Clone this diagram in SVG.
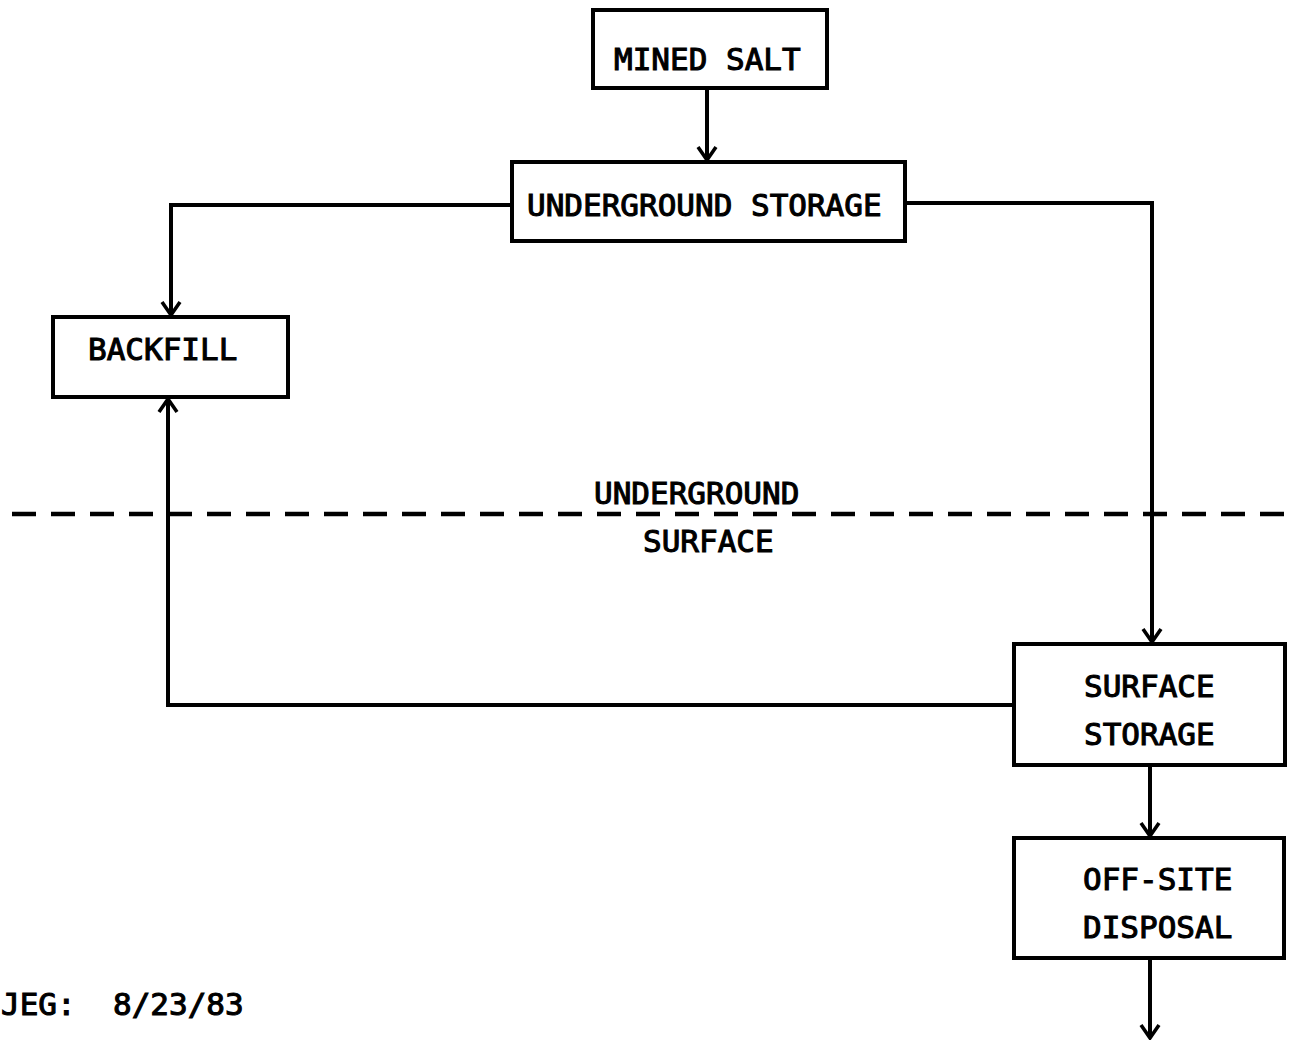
<svg xmlns="http://www.w3.org/2000/svg" width="1291" height="1042" viewBox="0 0 1291 1042">
<style>
.box{fill:#fff;stroke:#000;stroke-width:4}
.t{font-family:"DejaVu Sans Mono","Liberation Mono",monospace;font-size:31px;fill:#000;stroke:#000;stroke-width:1.1;white-space:pre}
.c{fill:none;stroke:#000;stroke-width:4}
</style>
<defs>
<marker id="ah" viewBox="-15 -12 17 24" refX="0" refY="0" markerWidth="17" markerHeight="24" markerUnits="userSpaceOnUse" orient="auto">
<polyline points="-13,-9 0,0 -13,9" fill="none" stroke="#000" stroke-width="3.6"/>
</marker>
</defs>
<rect width="1291" height="1042" fill="#fff"/>
<g id="connectors">
<line class="c" x1="707" y1="88" x2="707" y2="160" marker-end="url(#ah)"/>
<polyline class="c" points="512,205 171,205 171,315" marker-end="url(#ah)"/>
<polyline class="c" points="905,203 1152,203 1152,642" marker-end="url(#ah)"/>
<polyline class="c" points="1014,705 168,705 168,399" marker-end="url(#ah)"/>
<line class="c" x1="1150" y1="765" x2="1150" y2="836" marker-end="url(#ah)"/>
<line class="c" x1="1150" y1="958" x2="1150" y2="1038" marker-end="url(#ah)"/>
</g>
<g id="divider">
<line x1="12" y1="514" x2="1291" y2="514" stroke="#000" stroke-width="4.5" stroke-dasharray="24 15"/>
<text class="t" x="594" y="504">UNDERGROUND</text>
<text class="t" x="643" y="552">SURFACE</text>
</g>
<g id="mined-salt">
<rect class="box" x="593" y="10" width="234" height="78"/>
<text class="t" x="614" y="70">MINED SALT</text>
</g>
<g id="underground-storage">
<rect class="box" x="512" y="162" width="393" height="79"/>
<text class="t" x="527" y="216">UNDERGROUND STORAGE</text>
</g>
<g id="backfill">
<rect class="box" x="53" y="317" width="235" height="80"/>
<text class="t" x="88" y="360">BACKFILL</text>
</g>
<g id="surface-storage">
<rect class="box" x="1014" y="644" width="271" height="121"/>
<text class="t" x="1084" y="697">SURFACE</text>
<text class="t" x="1084" y="745">STORAGE</text>
</g>
<g id="off-site-disposal">
<rect class="box" x="1014" y="838" width="270" height="120"/>
<text class="t" x="1083" y="890">OFF-SITE</text>
<text class="t" x="1083" y="938">DISPOSAL</text>
</g>
<g id="footer">
<text class="t" x="1" y="1015">JEG:  8/23/83</text>
</g>
</svg>
